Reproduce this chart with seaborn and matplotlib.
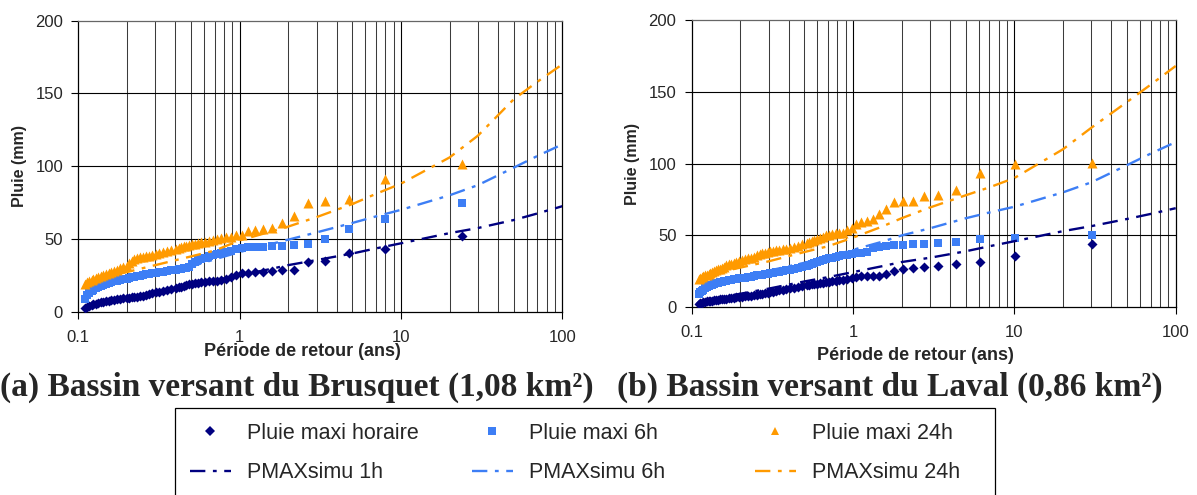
import numpy as np
import pandas as pd
import matplotlib
matplotlib.use("Agg")
import matplotlib.pyplot as plt
from matplotlib.lines import Line2D
from matplotlib.patches import Rectangle
import seaborn as sns

# ---------------- data ----------------
# Brusquet (left): return periods of the observed maxima (years)
T_left = [23.8, 7.933, 4.76, 3.4, 2.644, 2.164, 1.831, 1.587, 1.4, 1.253, 1.133, 1.035,
          0.952, 0.881, 0.821, 0.768, 0.721, 0.68, 0.643, 0.61, 0.58, 0.553, 0.529, 0.506,
          0.486, 0.467, 0.449, 0.433, 0.418, 0.403,
          0.378, 0.355, 0.334, 0.317, 0.301, 0.287, 0.274, 0.262, 0.251, 0.24, 0.231, 0.222,
          0.214, 0.207, 0.2,
          0.19, 0.182, 0.174, 0.167, 0.16, 0.154, 0.148, 0.143, 0.138, 0.133, 0.128, 0.124,
          0.121, 0.117, 0.114, 0.11]
left_1h = [51.9, 42.8, 40, 34.6, 33.9, 28.6, 28.6, 28, 27.5, 27, 26.8, 26.3, 25.2, 23.8, 22.2,
           21.8, 21.4, 21.1, 20.8, 20.5, 20.2, 19.8, 19.5, 19.2, 18.8, 18.3, 17.8, 17.3, 16.8, 16.3,
           15.5, 14.8, 14.2, 13.7, 13.2, 12.6, 12, 11.5, 11, 10.6, 10.2, 10, 9.8, 9.6, 9.4,
           9.1, 8.8, 8.5, 8.2, 7.9, 7.6, 7.2, 6.8, 6.4, 6, 5.5, 5, 4.5, 3.9, 3.3, 2.5]
left_6h = [74.8, 63.6, 57, 50.1, 46.5, 45.8, 45, 45, 44.4, 44.4, 44.2, 43.5, 42.8, 42, 41.2,
           40.4, 39.6, 38.8, 38, 37.2, 36.3, 35.5, 34.3, 32.5, 30.8, 30.2, 29.9, 29.6, 29.3, 29,
           28.5, 28, 27.5, 27.1, 26.8, 26.4, 26, 25.6, 25.2, 24.8, 24.4, 24, 23.6, 23.2, 22.8,
           22.2, 21.8, 21.3, 20.8, 20.2, 19.6, 19, 18.5, 17.8, 17, 16, 15, 14, 12.8, 11.4, 9]
left_24h = [101.6, 91, 77.3, 76.4, 75, 65.7, 61, 57.7, 56.5, 56, 55.4, 52.8, 52.5, 51.5, 51,
            50.5, 50.2, 49.5, 48.8, 48.2, 47.6, 47.2, 46.8, 46.3, 45.8, 45.4, 45, 44.5, 44, 43.4,
            42.5, 41.7, 40.8, 40.1, 39.5, 39, 38.6, 38.2, 37.8, 37.4, 37, 36.3, 35, 33.4, 31.6,
            30.6, 29.8, 29, 28.3, 27.4, 26.6, 25.8, 25.2, 24.5, 23.8, 23, 22.3, 21.6, 20.9, 20.2, 19.3]

# Laval (right)
T_right = [30.4, 10.13, 6.08, 4.343, 3.378, 2.764, 2.338, 2.027, 1.788, 1.6, 1.448, 1.322,
           1.216, 1.126, 1.048, 0.981, 0.921, 0.869, 0.822, 0.779, 0.741, 0.707, 0.676, 0.647,
           0.62, 0.596, 0.574, 0.553, 0.533, 0.515,
           0.4825, 0.4537, 0.4282, 0.4053, 0.3848, 0.3663, 0.3494, 0.3341, 0.32, 0.3071, 0.2951,
           0.2841, 0.2739, 0.2643, 0.2555,
           0.2432, 0.2321, 0.2219, 0.2126, 0.204, 0.1961, 0.1888, 0.182, 0.1757, 0.1698, 0.1643,
           0.1592, 0.1543, 0.1498, 0.1455, 0.1414, 0.1376, 0.1339, 0.1305, 0.1272, 0.1241,
           0.1211, 0.1183, 0.1156, 0.113, 0.1105]
right_1h = [43.9, 36, 31.2, 30.4, 28.6, 28, 27.4, 27, 25.5, 23.3, 22, 21.8, 21.8, 21.6, 21,
            20.2, 19.6, 19.2, 18.8, 18.4, 18, 17.7, 17.4, 17.1, 16.8, 16.5, 16.2, 15.9, 15.6, 15.3,
            14.7, 14.1, 13.6, 13.1, 12.6, 12.1, 11.7, 11.3, 10.9, 10.5, 10.1, 9.8, 9.5, 9.2, 8.9,
            8.5, 8.2, 7.9, 7.6, 7.3, 7.1, 6.9, 6.7, 6.5, 6.3, 6.1, 5.9, 5.7, 5.5, 5.3, 5.1, 4.9,
            4.7, 4.5, 4.3, 4.1, 3.9, 3.6, 3.2, 2.8, 2.2]
right_6h = [50.5, 48.5, 47.5, 45.5, 44.5, 44.2, 43.8, 43.6, 43.4, 42.8, 42.2, 41, 38.8, 38, 37.6,
            37.2, 36.6, 36.2, 35.8, 35.3, 34.6, 34, 33.3, 32.6, 31.9, 31.3, 30.7, 30.2, 29.6, 29,
            28.2, 27.6, 27, 26.2, 25.7, 25.2, 24.8, 24.4, 24, 23.7, 23.4, 23.1, 22.8, 22.5, 22.2,
            21.8, 21.4, 21, 20.7, 20.4, 20.1, 19.8, 19.5, 19.2, 18.9, 18.6, 18.2, 17.8, 17.5, 17.1,
            16.7, 16.3, 15.8, 15.3, 14.7, 14, 13.2, 12.3, 11.4, 10.4, 9.5]
right_24h = [100.5, 99.8, 93.5, 81.7, 78.2, 77.7, 74, 74, 73.5, 68.4, 64.7, 61.4, 60.2, 59.5, 58,
             55.5, 53.5, 52, 51.6, 51.4, 51, 50.6, 50, 49.2, 48.4, 47.6, 47, 46.4, 45.6, 44.8,
             43.8, 42.6, 41.9, 41.2, 40.8, 40.4, 40, 39.6, 39.2, 38.9, 38.5, 38, 37.5, 37, 36.2,
             35.3, 34.6, 34, 33.4, 32.8, 32.3, 31.6, 31, 30.4, 29.8, 29.1, 28.4, 27.6, 27, 26.4,
             25.8, 25.2, 24.6, 24, 23.4, 22.8, 22.2, 21.6, 21, 20.3, 19.5]

# simulated curves (PMAXsimu)
T_sim = [0.18, 0.3, 0.5, 0.7, 1, 1.5, 2, 3, 5, 7, 10, 20, 30, 50, 70, 100]
simL_1h = [9, 13, 18, 21.5, 25, 29, 32, 35.5, 40, 43.5, 47, 54, 57.5, 63, 67.5, 72.5]
simL_6h = [20, 25, 31, 36, 41, 46, 49.5, 54.5, 61, 65.5, 70, 80, 87, 99, 107, 115]
simL_24h = [26, 32, 38, 42, 49, 54.5, 58.5, 65, 74, 81, 88, 106, 121, 146, 158, 170]
simR_1h = [8.5, 13, 18, 21, 24.5, 28.5, 31.5, 34.5, 39, 42.5, 46, 53, 56.5, 61.5, 65, 69]
simR_6h = [19.5, 25.5, 31, 35, 40, 45.5, 50, 55, 62, 66, 70, 80, 87, 99, 107, 115]
simR_24h = [26.5, 32, 38.5, 42.5, 48.5, 56, 62, 69.5, 78, 83.5, 90, 110, 125, 143, 155, 168]

x_ticks = [0.1, 1, 10, 100]
x_ticklabels = ["0.1", "1", "10", "100"]
y_ticks = [0, 50, 100, 150, 200]

obs_labels = ["Pluie maxi horaire", "Pluie maxi 6h", "Pluie maxi 24h"]
sim_labels = ["PMAXsimu 1h", "PMAXsimu 6h", "PMAXsimu 24h"]
titles = ["(a) Bassin versant du Brusquet (1,08 km\u00b2)",
          "(b) Bassin versant du Laval (0,86 km\u00b2)"]

# ---------------- style ----------------
sns.set_style("white")
plt.rcParams["font.family"] = ["Liberation Sans", "DejaVu Sans"]

C_NAVY = "#000080"
C_BLUE = "#3D7EF5"
C_ORANGE = "#FF9A00"
colors = [C_NAVY, C_BLUE, C_ORANGE]
markers = ["D", "s", "^"]
msizes = [26, 40, 52]
DASH = (0, (6.5, 3.2, 1.6, 3.2))

W, H = 1197, 495
fig = plt.figure(figsize=(W / 100, H / 100), dpi=100)

ax_l = fig.add_axes([78.3 / W, 1 - 311.7 / H, 484 / W, 291 / H])
ax_r = fig.add_axes([691.7 / W, 1 - 307.3 / H, 484 / W, 287.3 / H])

panels = [
    (ax_l, T_left, [left_1h, left_6h, left_24h], [simL_1h, simL_6h, simL_24h], (302, 352)),
    (ax_r, T_right, [right_1h, right_6h, right_24h], [simR_1h, simR_6h, simR_24h], (915, 356)),
]

minor_pos = [m * 10.0 ** e for e in (-1, 0, 1) for m in range(2, 10)]

for ax, T, obs, sims, xlab_pos in panels:
    ax.set_xscale("log")
    # grid
    for xv in minor_pos:
        ax.axvline(xv, color="#3c3c3c", lw=0.75, zorder=0)
    for xv in [1, 10]:
        ax.axvline(xv, color="black", lw=0.8, zorder=0)
    for yv in [50, 100, 150]:
        ax.axhline(yv, color="black", lw=0.8, zorder=0)

    for vals, col, mk, ms in zip(obs, colors, markers, msizes):
        df = pd.DataFrame({"T": T, "P": vals})
        sns.scatterplot(data=df, x="T", y="P", ax=ax, color=col, marker=mk, s=ms,
                        linewidth=0, zorder=3, legend=False)
    for vals, col in zip(sims, colors):
        df = pd.DataFrame({"T": T_sim, "P": vals})
        sns.lineplot(data=df, x="T", y="P", ax=ax, color=col, lw=1.7,
                     linestyle=DASH, zorder=4, legend=False)

    ax.set_xlim(0.1, 100)
    ax.set_ylim(0, 200)
    ax.set_xticks(x_ticks)
    ax.set_xticklabels(x_ticklabels)
    ax.minorticks_off()
    ax.set_yticks(y_ticks)
    ax.tick_params(axis="both", direction="out", length=5, width=0.8, color="black",
                   labelsize=12, bottom=True, left=True)
    ax.tick_params(axis="y", pad=6)
    ax.tick_params(axis="x", pad=8)
    for side in ["left", "bottom", "right"]:
        ax.spines[side].set_color("black")
        ax.spines[side].set_linewidth(0.9)
    ax.spines["top"].set_color("#666666")
    ax.spines["top"].set_linewidth(0.9)
    ax.set_xlabel("")
    ax.set_ylabel("Pluie (mm)", fontsize=11.5, fontweight="bold", labelpad=6)
    fig.text(xlab_pos[0] / W, 1 - xlab_pos[1] / H, "Période de retour (ans)",
             ha="center", va="center", fontsize=13, fontweight="bold")

# captions
for xc, txt in zip([297, 890], titles):
    fig.text(xc / W, 1 - 387 / H, txt, ha="center", va="center",
             fontsize=24, fontweight="bold", family=["Liberation Serif", "DejaVu Serif"])

# legend: frame + three columns
fig.add_artist(Rectangle((175 / W, 1 - 505 / H), (995 - 175) / W, (505 - 408) / H,
                         transform=fig.transFigure, fill=False, edgecolor="black", lw=0.9,
                         clip_on=False))
col_x = [190, 472, 755]
for i in range(3):
    h_obs = Line2D([], [], color=colors[i], marker=markers[i], linestyle="none",
                   markersize=[4.6, 5.4, 6.4][i], markeredgewidth=0)
    h_sim = Line2D([], [], color=colors[i], lw=1.7, linestyle=DASH)
    fig.legend([h_obs, h_sim], [obs_labels[i], sim_labels[i]], loc="center left",
               bbox_to_anchor=(col_x[i] / W, 1 - 453 / H), frameon=False, fontsize=15.5,
               handlelength=1.9, handletextpad=0.75, labelspacing=0.85, borderpad=0,
               borderaxespad=0)

fig.savefig("out.png", dpi=100)
